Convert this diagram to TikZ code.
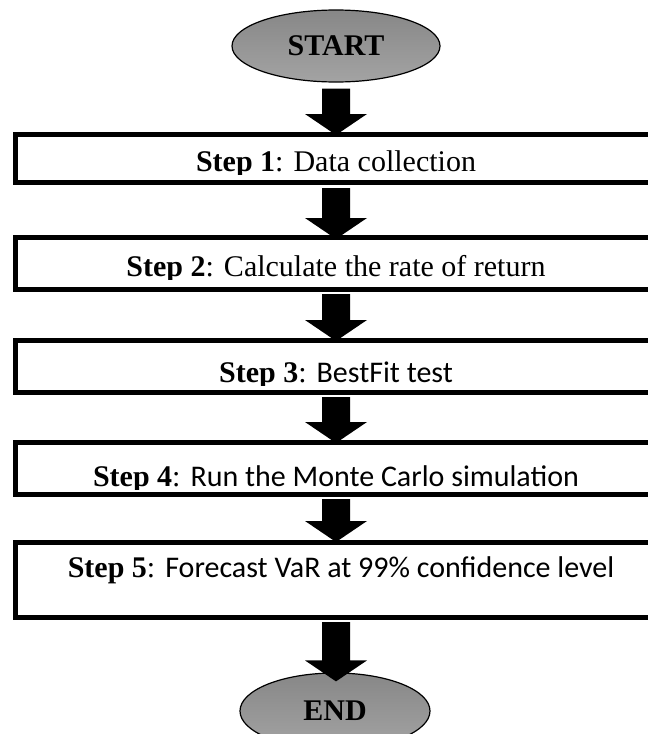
\documentclass[tikz,border=0pt]{standalone}
\usepackage{fontspec}
\setmainfont{Liberation Serif}
\newfontfamily\califont{Carlito}
\usetikzlibrary{shapes.geometric,calc}
\tikzset{
  stepbox/.style={draw=black, line width=5pt, fill=white, inner sep=0pt},
  termnode/.style={ellipse, draw=black, line width=1.2pt, top color=black!47, bottom color=black!36, inner sep=0pt,
    font=\fontsize{30}{34}\selectfont\bfseries},
  steptext/.style={anchor=base, inner sep=0pt, font=\fontsize{30}{34}\selectfont},
}
\newcommand\blockarr[2]{\fill[black] ($#1+(-14,0)$) -- ($#1+(14,0)$) -- ($#2+(14,-21)$) -- ($#2+(31,-21)$) -- #2 -- ($#2+(-31,-21)$) -- ($#2+(-14,-21)$) -- cycle;}
\begin{document}
\begin{tikzpicture}[x=1pt,y=-1pt]
\useasboundingbox (0,0) rectangle (648,734);
\clip (0,0) rectangle (648,734);
\coordinate (axis) at (336,0);
% terminals
\node[termnode, minimum width=208pt, minimum height=72pt] (start) at (336,46) {START};
\node[termnode, minimum width=190pt, minimum height=76pt] (end) at (335,711) {END};
% boxes
\node[stepbox, minimum width=644.5pt, minimum height=48pt] (b1) at (337.75,158.5) {};
\node[stepbox, minimum width=644.5pt, minimum height=52pt] (b2) at (337.75,263.5) {};
\node[stepbox, minimum width=644.5pt, minimum height=52pt] (b3) at (337.75,366.5) {};
\node[stepbox, minimum width=644.5pt, minimum height=52pt] (b4) at (337.75,468.5) {};
\node[stepbox, minimum width=644.5pt, minimum height=75pt] (b5) at (337.75,580) {};
% texts (descenders clipped as in the text boxes of the original)
\begin{scope}
  \clip (0,137) rectangle (648,174.5);
  \node[steptext] (t1) at (336,171) {\textbf{Step 1}: Data collection};
\end{scope}
\begin{scope}
  \clip (0,240) rectangle (648,279.5);
  \node[steptext] (t2) at (336,276) {\textbf{Step 2}: Calculate the rate of return};
\end{scope}
\begin{scope}
  \clip (0,343) rectangle (648,385.5);
  \node[steptext] (t3) at (336,382) {\textbf{Step 3}: \califont BestFit test};
\end{scope}
\begin{scope}
  \clip (0,445) rectangle (648,489.5);
  \node[steptext] (t4) at (336,486) {\textbf{Step 4}: \califont Run the Monte Carlo simulation};
\end{scope}
\node[steptext] (t5) at (341,577) {\textbf{Step 5}: \califont Forecast VaR at 99\% confidence level};
% arrows
\coordinate (a1s) at ($(start.south -| axis)+(0,6)$);
\coordinate (a1e) at ($(b1.north -| axis)+(0,3)$);
\coordinate (a2s) at ($(b1.south -| axis)+(0,3)$);
\coordinate (a2e) at ($(b2.north -| axis)+(0,4)$);
\coordinate (a3s) at ($(b2.south -| axis)+(0,2)$);
\coordinate (a3e) at ($(b3.north -| axis)+(0,3)$);
\coordinate (a4s) at ($(b3.south -| axis)+(0,2)$);
\coordinate (a4e) at ($(b4.north -| axis)+(0,3)$);
\coordinate (a5s) at ($(b4.south -| axis)+(0,2)$);
\coordinate (a5e) at ($(b5.north -| axis)+(0,2)$);
\coordinate (a6s) at ($(b5.south -| axis)+(0,2)$);
\coordinate (a6e) at ($(end.north -| axis)+(0,9)$);
\blockarr{(a1s)}{(a1e)}
\blockarr{(a2s)}{(a2e)}
\blockarr{(a3s)}{(a3e)}
\blockarr{(a4s)}{(a4e)}
\blockarr{(a5s)}{(a5e)}
\blockarr{(a6s)}{(a6e)}
\end{tikzpicture}
\end{document}
